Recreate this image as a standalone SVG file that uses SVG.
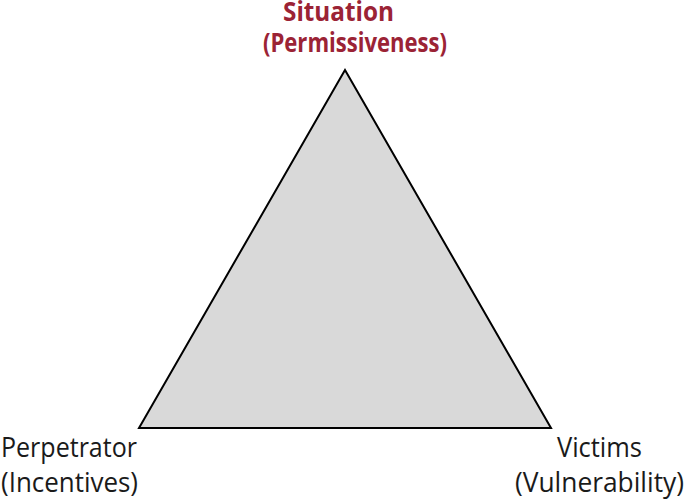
<svg xmlns="http://www.w3.org/2000/svg" width="685" height="499" viewBox="0 0 685 499">
<style>
.lbl{font-family:"Open Sans","Liberation Sans",sans-serif;font-size:26.5px;fill:#1a1a1a}
.top{font-family:"Open Sans","Liberation Sans",sans-serif;font-size:26.5px;font-weight:bold;fill:#9b2335}
</style>
<rect width="685" height="499" fill="#fff"/>
<g id="triangle">
<polygon points="345,70 139,428 551,428" fill="#d9d9d9" stroke="#000" stroke-width="2" stroke-linejoin="miter"/>
</g>
<g id="situation">
<text class="top" x="283" y="21" textLength="111" lengthAdjust="spacingAndGlyphs">Situation</text>
<text class="top" x="263" y="52" textLength="184" lengthAdjust="spacingAndGlyphs">(Permissiveness)</text>
</g>
<g id="perpetrator">
<text class="lbl" x="1" y="457" textLength="136" lengthAdjust="spacingAndGlyphs">Perpetrator</text>
<text class="lbl" x="1" y="492" textLength="137" lengthAdjust="spacingAndGlyphs">(Incentives)</text>
</g>
<g id="victims">
<text class="lbl" x="557" y="457" textLength="85" lengthAdjust="spacingAndGlyphs">Victims</text>
<text class="lbl" x="515" y="492" textLength="169" lengthAdjust="spacingAndGlyphs">(Vulnerability)</text>
</g>
<g id="connectors"></g>
</svg>
